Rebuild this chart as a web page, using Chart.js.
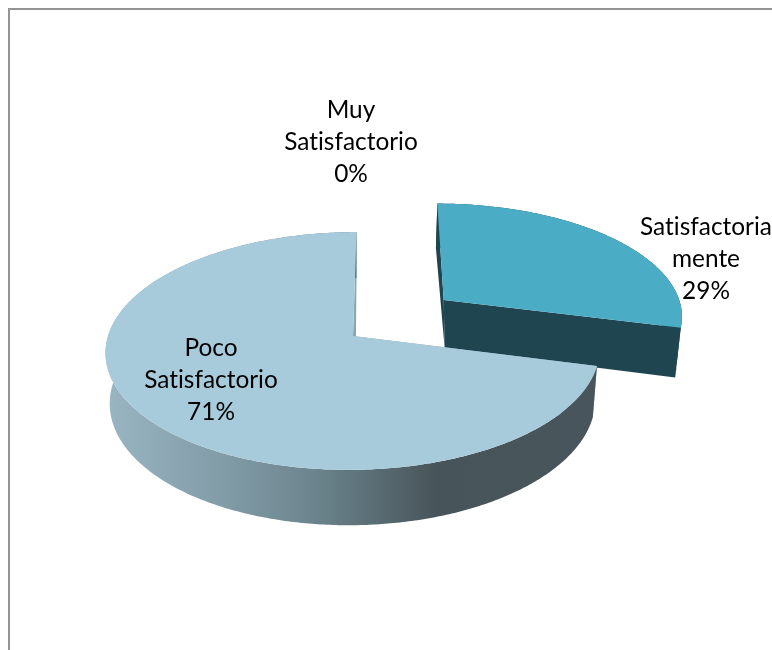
<!DOCTYPE html>
<html lang="es">
<head>
<meta charset="utf-8">
<title>Grado de satisfacción</title>
<script src="https://cdn.jsdelivr.net/npm/chart.js@4"></script>
<style>
  html, body { margin: 0; padding: 0; background: #fff; }
  canvas { display: block; }
</style>
</head>
<body>
<canvas id="pie" width="772" height="650"></canvas>
<script>
// Chart data
const categories = ['Muy Satisfactorio', 'Satisfactoriamente', 'Poco Satisfactorio'];
const values = [0, 29, 71];
const labelLines = [
  ['Muy', 'Satisfactorio', '0%'],
  ['Satisfactoria', 'mente', '29%'],
  ['Poco', 'Satisfactorio', '71%']
];
const faceColors = ['#4f81bd', '#4bacc6', '#a8cbdb'];
const wallColors = ['#2a4566', '#1e4550', '#8aa6b1'];
// Pulled-out slices, as a shift in disc units (right, towards the viewer)
const pullOut = [[0, 0], [0.38, -0.32], [0, 0]];

// Perspective of the tilted disc: centre, radii, lean and vanishing strength
const view = { cx: 353, cy: 336, rx: 245, ry: 117, lean: -4, persp: 0.126, shrink: 0.983, depth: 50, grow: 0.04, apexDrift: 2.5 };

// Where each label block is centred
const labelAnchors = [[351, 142], [706, 259], [211, 380]];
const lineHeight = 32;

// Disc coordinates (u right, v towards the viewer) to canvas coordinates
function topPoint(u, v) {
  const d = 1 - view.persp * v;
  return [view.cx + (view.rx * u + view.lean * v) / d, view.cy + view.ry * v / d];
}
function lowPoint(p) {
  return [
    view.cx + (p[0] - view.cx) * view.shrink,
    p[1] + view.depth + view.grow * (p[1] - view.cy)
  ];
}

function tracePath(ctx, points) {
  ctx.beginPath();
  points.forEach((p, i) => i ? ctx.lineTo(p[0], p[1]) : ctx.moveTo(p[0], p[1]));
  ctx.closePath();
}

function drawSlice(ctx, arc, index) {
  if (arc.endAngle - arc.startAngle < 1e-4) return;
  const [ou, ov] = pullOut[index];
  const rim = [];
  const steps = Math.ceil((arc.endAngle - arc.startAngle) * 90);
  for (let i = 0; i <= steps; i++) {
    const a = arc.startAngle + (arc.endAngle - arc.startAngle) * i / steps;
    rim.push(topPoint(ou + Math.cos(a), ov + Math.sin(a)));
  }
  const apex = topPoint(ou, ov);
  const lowRim = rim.map(lowPoint);
  const lowApex = lowPoint(apex);
  lowApex[0] += view.apexDrift;

  // Side walls: the two cut faces, then the curved outer wall
  ctx.fillStyle = wallColors[index];
  tracePath(ctx, [apex, rim[0], lowRim[0], lowApex]);
  ctx.fill();
  tracePath(ctx, [apex, rim[rim.length - 1], lowRim[lowRim.length - 1], lowApex]);
  ctx.fill();

  if (index === 2) {
    const g = ctx.createLinearGradient(105, 0, 595, 0);
    g.addColorStop(0, '#9ab6c3');
    g.addColorStop(0.3, '#7b95a0');
    g.addColorStop(0.45, '#688089');
    g.addColorStop(0.68, '#475459');
    g.addColorStop(1, '#48555c');
    ctx.fillStyle = g;
  }
  tracePath(ctx, rim.concat(lowRim.slice().reverse()));
  ctx.fill();

  // Top face
  ctx.fillStyle = faceColors[index];
  tracePath(ctx, [apex].concat(rim));
  ctx.fill();
}

const tiltedPie = {
  id: 'tiltedPie',
  beforeDraw(chart) {
    const ctx = chart.ctx;
    ctx.save();
    ctx.fillStyle = '#fff';
    ctx.fillRect(0, 0, chart.width, chart.height);
    ctx.fillStyle = '#949494';
    ctx.fillRect(8, 8, chart.width - 8, 2);
    ctx.fillRect(8, 8, 2, chart.height - 8);
    ctx.restore();
  },
  beforeDatasetsDraw(chart) {
    const ctx = chart.ctx;
    const arcs = chart.getDatasetMeta(0).data;
    ctx.save();
    [1, 0, 2].forEach(i => drawSlice(ctx, arcs[i], i));
    ctx.fillStyle = '#000';
    ctx.font = '24.4px Lato, Carlito, sans-serif';
    ctx.letterSpacing = '0.01px'; // keeps "ti" and "fa" as separate letters
    ctx.textAlign = 'center';
    ctx.textBaseline = 'middle';
    labelLines.forEach((lines, i) => {
      lines.forEach((text, k) => {
        ctx.fillText(text, labelAnchors[i][0], labelAnchors[i][1] + (k - 1) * lineHeight);
      });
    });
    ctx.restore();
    return false;
  }
};

new Chart(document.getElementById('pie'), {
  type: 'pie',
  data: {
    labels: categories,
    datasets: [{ data: values, backgroundColor: faceColors, borderWidth: 0 }]
  },
  options: {
    responsive: false,
    animation: false,
    rotation: 0,
    plugins: { legend: { display: false }, tooltip: { enabled: false } }
  },
  plugins: [tiltedPie]
});
</script>
</body>
</html>
